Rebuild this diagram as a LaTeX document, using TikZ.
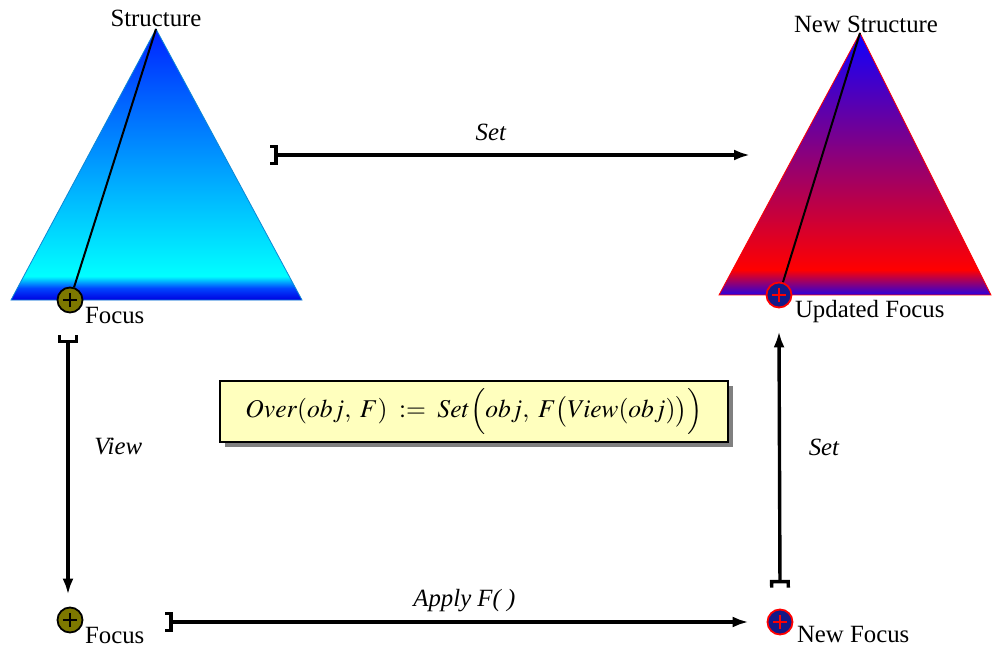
\documentclass[tikz,border=0pt]{standalone}
\usepackage{mathptmx}
\usepackage{fontspec}
\setmainfont{Liberation Serif}
\usetikzlibrary{arrows.meta, positioning, calc, shadows}

\definecolor{topblue}{RGB}{0,35,255}
\definecolor{midblue}{RGB}{0,70,255}
\definecolor{botblue}{RGB}{0,0,225}
\definecolor{newtop}{RGB}{15,0,255}
\definecolor{newbot}{RGB}{40,0,225}
\definecolor{olivedot}{RGB}{125,120,0}
\definecolor{navydot}{RGB}{20,25,135}
\definecolor{notefill}{RGB}{255,255,190}

\pgfdeclareverticalshading{oldtree}{100bp}{color(0bp)=(botblue); color(25bp)=(botblue);
  color(27.2bp)=(midblue); color(29.4bp)=(cyan); color(75bp)=(topblue); color(100bp)=(topblue)}
\pgfdeclareverticalshading{newtree}{100bp}{color(0bp)=(newbot); color(25bp)=(newbot);
  color(29.8bp)=(red); color(75bp)=(newtop); color(100bp)=(newtop)}

\begin{document}
\begin{tikzpicture}[
    x=0.5pt, y=-0.5pt,
    font=\fontsize{12.4}{14}\selectfont,
    fl/.style={{Bracket[reversed, width=10pt, length=3pt]}-{Latex[length=8pt, width=5.5pt]},
               line width=1.7pt},
    focusdot/.style={circle, minimum size=12.5pt, inner sep=0pt, line width=0.9pt,
               path picture={\draw[line width=1.1pt, #1]
                 ($(path picture bounding box.center)+(-3.6pt,0pt)$) -- ++(7.2pt,0pt)
                 ($(path picture bounding box.center)+(0pt,-3.6pt)$) -- ++(0pt,7.2pt);}},
    olddot/.style={focusdot=black, fill=olivedot, draw=black},
    newdot/.style={focusdot=red, fill=navydot, draw=red},
    spine/.style={line width=1pt},
    flab/.style={font=\fontsize{12.4}{14}\selectfont\itshape}
  ]
    \useasboundingbox (0,0) rectangle (992,647);
    % ---- structure ----
    \coordinate (s1top) at (156,29);
    \coordinate (s1left) at (11,300);
    \coordinate (s1right) at (302,300);
    \path[shade, shading=oldtree, draw=cyan!70!blue, line width=0.4pt]
      (s1top) -- (s1left) -- (s1right) -- cycle;
    \node[anchor=base, yshift=1pt] (s1lab) at (s1top) {Structure};
    \node[olddot] (f1) at (70,300) {};
    \draw[spine] (s1top) -- (f1);
    \node[anchor=base west] (f1lab) at ([shift={(8,23)}]f1.center) {Focus};
    % ---- new structure ----
    \coordinate (s2top) at (860,33);
    \coordinate (s2left) at (719,295);
    \coordinate (s2right) at (991,295);
    \path[shade, shading=newtree, draw=red, line width=0.4pt]
      (s2top) -- (s2left) -- (s2right) -- cycle;
    \node[anchor=base, xshift=3pt] (s2lab) at (s2top) {New Structure};
    \node[newdot] (f2) at (779,295) {};
    \draw[spine] (s2top) -- (f2);
    \node[anchor=base west] (f2lab) at ([shift={(9,22)}]f2.center) {Updated Focus};
    % ---- focus ----
    \node[olddot] (f3) at (70,620) {};
    \node[anchor=base west] (f3lab) at ([shift={(8,23)}]f3.center) {Focus};
    \node[newdot] (f4) at (780,622) {};
    \node[anchor=base west] (f4lab) at ([shift={(10,20)}]f4.center) {New Focus};
    % ---- over ----
    \node[draw=black, line width=1pt, fill=notefill, font=\fontsize{12.8}{15}\selectfont,
          drop shadow={shadow xshift=2.5pt, shadow yshift=-2.5pt, fill=black!50, opacity=1},
          minimum width=254pt, minimum height=30.5pt] (over) at (474,411.5)
      {$Over(obj,\;F)\;\mathrel{:=}\;Set\Big(obj,\;F\big(View(obj)\big)\Big)$};
    % ---- arrows ----
    \coordinate (set1) at (270,155);
    \coordinate (set2) at (750,155);
    \coordinate (app1) at (165,622);
    \draw[fl] (set1) -- node[flab, pos=.46, anchor=base, yshift=7pt] (setlab) {Set} (set2);
    \draw[fl] ([shift={(-2,22)}]f1.south) --
      node[flab, pos=.43, anchor=west, xshift=9pt] (viewlab) {View} ([shift={(-2,-12)}]f3.north);
    \draw[fl] (app1) -- node[flab, pos=.513, anchor=base, yshift=8pt] (applab) {Apply F( )}
      ([shift={(-18,0)}]f4.west);
    \draw[fl] ([shift={(0,-21)}]f4.north) --
      node[flab, pos=.547, anchor=west, xshift=10.5pt] (set2lab) {Set} ([shift={(0,23)}]f2.south);
\end{tikzpicture}
\end{document}
